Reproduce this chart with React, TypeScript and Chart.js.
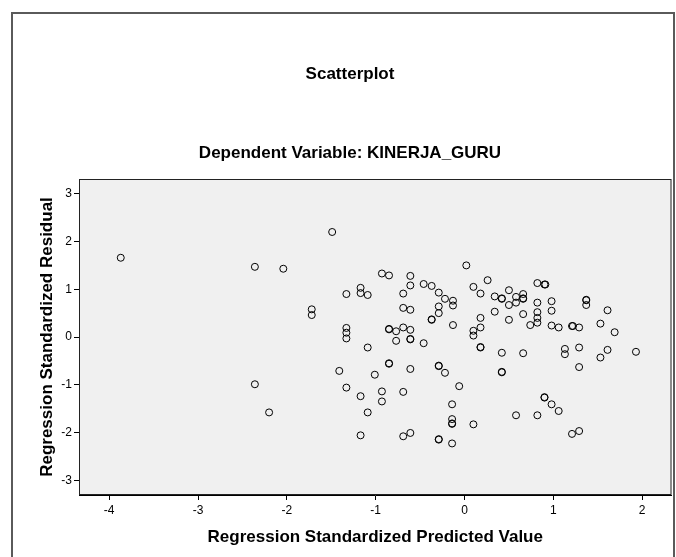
import React, { useEffect, useRef } from "react";
import { Chart, registerables } from "chart.js";

Chart.register(...registerables);

const chartTitle = "Scatterplot";
const chartSubtitle = "Dependent Variable: KINERJA_GURU";
const xAxisTitle = "Regression Standardized Predicted Value";
const yAxisTitle = "Regression Standardized Residual";

const xRange = [-4.34, 2.33];
const yRange = [-3.31, 3.31];

const predictedValues = [
  -3.87, -2.36, -1.49, -2.04, -0.93, -0.85, -0.61, -0.61, -0.46, -0.37,
  -1.17, -1.17, -1.09, -1.33, -0.69, -0.29, -0.22, -0.13, -0.13, -1.72,
  -1.72, -0.69, -0.61, -0.29, -0.29, -0.37, -0.37, -0.13, -1.33, -1.33,
  -1.33, -0.85, -0.85, -0.77, -0.69, -0.61, -0.77, -0.61, -0.61, -0.46,
  -1.09, 0.02, 0.26, 0.1, 0.18, 0.5, 0.82, 0.9, 0.91, 0.34,
  0.42, 0.42, 0.58, 0.66, 0.66, 0.66, 0.5, 0.58, 0.82, 0.98,
  0.98, 0.82, 0.82, 0.82, 1.37, 1.37, 1.37, 1.61, 0.34, 0.66,
  0.18, 0.5, 0.74, 0.98, 1.06, 1.21, 1.22, 1.29, 1.53, 1.69,
  0.1, 0.1, 0.18, 0.18, 0.18, 0.42, 0.66, 1.13, 1.13, 1.29,
  1.61, 1.53, 1.93, 1.29, 0.42, 0.42, -0.06, -0.14, -0.14, -0.14,
  -0.14, -0.14, 0.1, 0.58, 0.82, 0.9, 0.9, 0.98, 1.06, 1.21,
  1.29, -0.85, -0.85, -0.61, -0.29, -0.29, -0.22, -1.41, -1.01, -1.33,
  -1.17, -0.93, -0.93, -0.69, -2.2, -1.09, -1.17, -0.69, -0.61, -0.29,
  -0.29, -2.36,
];

const residualValues = [
  1.66, 1.47, 2.2, 1.43, 1.33, 1.29, 1.28, 1.08, 1.11, 1.07,
  1.03, 0.92, 0.88, 0.9, 0.91, 0.93, 0.8, 0.76, 0.66, 0.58,
  0.46, 0.61, 0.57, 0.64, 0.5, 0.36, 0.37, 0.25, 0.19, 0.09,
  -0.03, 0.16, 0.17, 0.12, 0.2, 0.15, -0.08, -0.05, -0.04, -0.13,
  -0.22, 1.5, 1.19, 1.05, 0.91, 0.98, 1.13, 1.1, 1.1, 0.85,
  0.8, 0.81, 0.84, 0.9, 0.8, 0.81, 0.67, 0.72, 0.72, 0.75,
  0.55, 0.52, 0.4, 0.3, 0.77, 0.78, 0.67, 0.56, 0.53, 0.48,
  0.4, 0.36, 0.25, 0.24, 0.2, 0.23, 0.23, 0.2, 0.28, 0.1,
  0.13, 0.03, 0.2, -0.22, -0.21, -0.33, -0.34, -0.25, -0.36, -0.22,
  -0.27, -0.43, -0.31, -0.63, -0.74, -0.73, -1.03, -1.41, -1.72, -1.82,
  -1.81, -2.23, -1.83, -1.64, -1.64, -1.27, -1.26, -1.41, -1.55, -2.03,
  -1.97, -0.56, -0.55, -0.67, -0.61, -0.6, -0.75, -0.71, -0.79, -1.06,
  -1.24, -1.14, -1.35, -1.15, -1.58, -1.58, -2.06, -2.08, -2.01, -2.15,
  -2.14, -0.99,
];

const FONT = "'Liberation Sans', Arial, sans-serif";

const decorPlugin = {
  id: "decor",
  beforeDraw(chart: any) {
    const { ctx, chartArea: a } = chart;
    ctx.save();
    ctx.fillStyle = "#ffffff";
    ctx.fillRect(0, 0, chart.width, chart.height);
    ctx.fillStyle = "#f0f0f0";
    ctx.fillRect(a.left, a.top, a.right - a.left, a.bottom - a.top);
    ctx.restore();
  },
  afterDraw(chart: any) {
    const { ctx, chartArea: a } = chart;
    ctx.save();
    // plot border
    ctx.strokeStyle = "#222";
    ctx.lineWidth = 1;
    ctx.strokeRect(a.left + 0.5, a.top + 0.5, a.right - a.left - 1, a.bottom - a.top - 1);
    // outer frame
    ctx.strokeStyle = "#5a5a5a";
    ctx.lineWidth = 2;
    ctx.strokeRect(12, 13, 662, 600);
    // titles
    ctx.fillStyle = "#000";
    ctx.textAlign = "center";
    ctx.textBaseline = "middle";
    ctx.font = `bold 17px ${FONT}`;
    ctx.fillText(chartTitle, 350, 74);
    ctx.fillText(chartSubtitle, 350, 153);
    ctx.fillText(xAxisTitle, (a.left + a.right) / 2, 537);
    ctx.translate(47, (a.top + a.bottom) / 2);
    ctx.rotate(-Math.PI / 2);
    ctx.fillText(yAxisTitle, 0, 0);
    ctx.restore();
  },
};

export default function App() {
  const ref = useRef<HTMLCanvasElement | null>(null);
  useEffect(() => {
    if (!ref.current) return;
    const points = predictedValues.map((x, i) => ({ x, y: residualValues[i] }));
    const chart = new Chart(ref.current, {
      type: "scatter",
      data: {
        datasets: [
          {
            data: points,
            pointStyle: "circle",
            pointRadius: 3.5,
            pointBorderWidth: 1,
            pointBorderColor: "#000",
            pointBackgroundColor: "rgba(0,0,0,0)",
            pointHoverRadius: 3.5,
          },
        ],
      },
      options: {
        responsive: false,
        animation: false,
        events: [],
        layout: { padding: { top: 179, right: 4, left: 0, bottom: 0 } },
        plugins: { legend: { display: false }, tooltip: { enabled: false }, title: { display: false } },
        scales: {
          x: {
            type: "linear",
            min: xRange[0],
            max: xRange[1],
            afterFit: (s: any) => {
              s.height = 62;
            },
            ticks: {
              stepSize: 1,
              includeBounds: false,
              color: "#000",
              font: { family: FONT, size: 12 },
              padding: 3,
              maxRotation: 0,
            },
            grid: { drawOnChartArea: false, drawTicks: true, tickLength: 5, color: "#000" },
            border: { display: true, color: "#000", width: 1 },
          },
          y: {
            type: "linear",
            min: yRange[0],
            max: yRange[1],
            afterFit: (s: any) => {
              s.width = 79;
            },
            ticks: {
              stepSize: 1,
              includeBounds: false,
              color: "#000",
              font: { family: FONT, size: 12 },
              padding: 2,
            },
            grid: { drawOnChartArea: false, drawTicks: true, tickLength: 5, color: "#000" },
            border: { display: true, color: "#000", width: 1 },
          },
        },
      },
      plugins: [decorPlugin],
    });
    return () => chart.destroy();
  }, []);
  return (
    <div style={{ position: "fixed", left: 0, top: 0, width: 676, height: 557, background: "#fff" }}>
      <canvas ref={ref} width={676} height={557} style={{ display: "block", width: 676, height: 557 }} />
    </div>
  );
}
